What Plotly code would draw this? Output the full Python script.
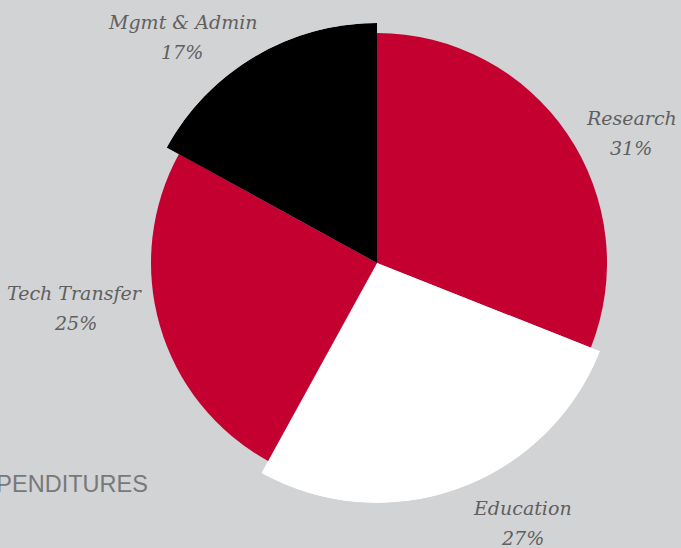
import plotly.graph_objects as go

# Data
categories = ["Research", "Education", "Tech Transfer", "Mgmt & Admin"]
percent = [31, 27, 25, 17]

# Style
slice_colors = ["#C40030", "#FFFFFF", "#C40030", "#000000"]
slice_radius = [230, 240, 226, 240]
bg = "#D2D3D5"
W, H = 681, 548
cx, cy, R = 377, 263, 240

# slice centres / widths (degrees, clockwise from 12 o'clock)
widths = [p * 3.6 for p in percent]
centres = []
acc = 0
for w in widths:
    centres.append(acc + w / 2)
    acc += w

fig = go.Figure()
fig.add_trace(go.Barpolar(
    r=slice_radius,
    theta=centres,
    width=widths,
    marker=dict(color=slice_colors, line=dict(width=0)),
    hoverinfo="skip",
))

# label positions (pixels): centre x, name-line centre y
label_pos = {
    "Research": (631, 118),
    "Education": (522, 508),
    "Tech Transfer": (75, 293),
    "Mgmt & Admin": (182, 22),
}
label_font = dict(family="DejaVu Serif", size=19, color="#5f5f5f", style="italic")
annotations = []
for c, p in zip(categories, percent):
    x, y = label_pos[c]
    for txt, yy in ((c.replace("&", "&amp;"), y), (f"{p}%", y + 30)):
        annotations.append(dict(
            x=x / W, y=1 - yy / H, xref="paper", yref="paper",
            xanchor="center", yanchor="middle",
            text=txt, showarrow=False, align="center",
            font=label_font,
        ))
annotations.append(dict(
    x=150 / W, y=1 - 484 / H, xref="paper", yref="paper",
    xanchor="right", yanchor="middle",
    text="EXPENDITURES", showarrow=False,
    font=dict(family="Liberation Sans", size=23.5, color="#77787A"),
))

fig.update_layout(
    width=W, height=H,
    margin=dict(l=0, r=0, t=0, b=0),
    paper_bgcolor=bg, plot_bgcolor=bg,
    showlegend=False,
    polar=dict(
        domain=dict(x=[(cx - R) / W, (cx + R) / W],
                    y=[(H - cy - R) / H, (H - cy + R) / H]),
        bgcolor="rgba(0,0,0,0)",
        radialaxis=dict(range=[0, R], visible=False),
        angularaxis=dict(rotation=90, direction="clockwise",
                         showline=False, showgrid=False,
                         showticklabels=False, ticks=""),
        bargap=0,
    ),
    annotations=annotations,
)

fig.write_html("out.html")
